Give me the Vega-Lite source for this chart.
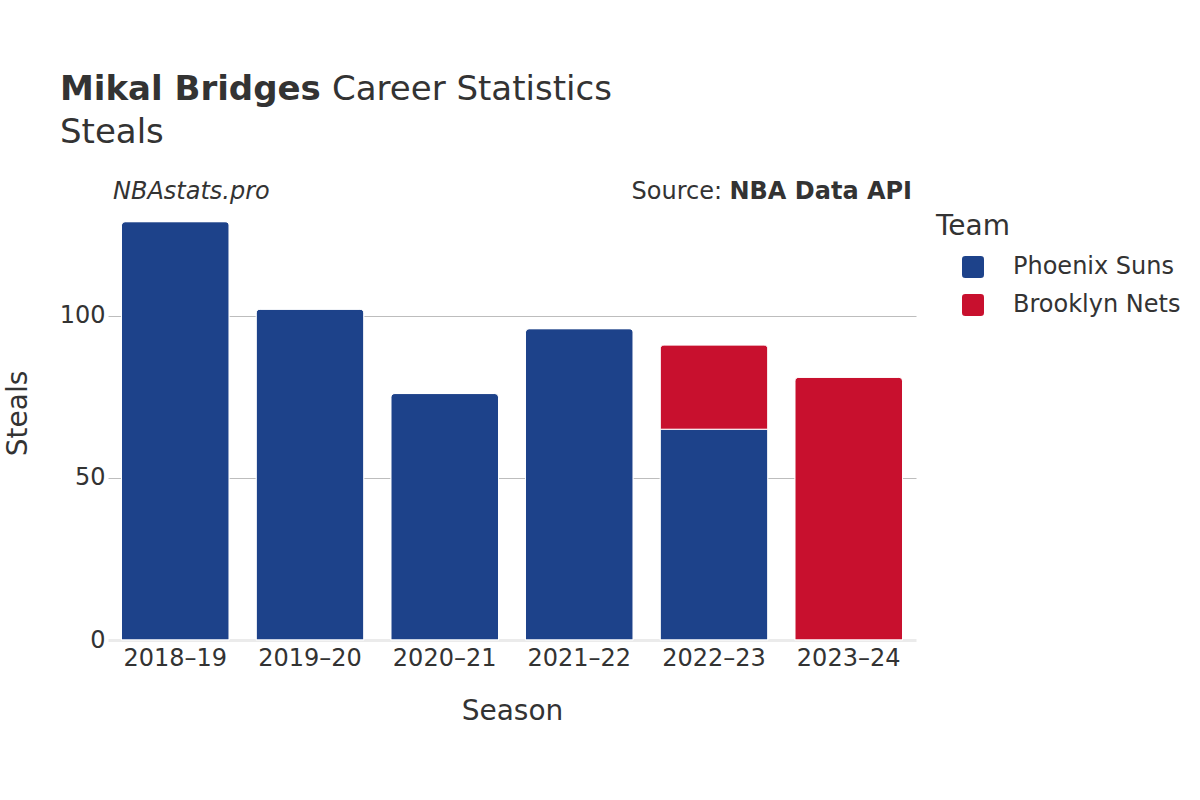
{
  "$schema": "https://vega.github.io/schema/vega-lite/v6.json",
  "width": 808,
  "height": 454,
  "autosize": {"type": "none"},
  "padding": {"left": 108, "top": 186, "right": 284, "bottom": 160},
  "background": "white",
  "config": {"font": "DejaVu Sans", "view": {"stroke": null}},
  "title": {
    "text": "Mikal Bridges",
    "subtitle": ["\u200b\u2003\u2003\u2003\u2003\u2003\u2003\u2003\u2003Career Statistics", "Steals"],
    "anchor": "start",
    "frame": "group",
    "dx": -48,
    "fontSize": 34,
    "fontWeight": "bold",
    "color": "#333333",
    "subtitleFontSize": 34,
    "subtitleFontWeight": "normal",
    "subtitleColor": "#333333",
    "subtitleLineHeight": 43,
    "subtitlePadding": -34,
    "offset": 30
  },
  "data": {
    "values": [
      {"season": "2018–19", "team": "Phoenix Suns", "steals": 129},
      {"season": "2019–20", "team": "Phoenix Suns", "steals": 102},
      {"season": "2020–21", "team": "Phoenix Suns", "steals": 76},
      {"season": "2021–22", "team": "Phoenix Suns", "steals": 96},
      {"season": "2022–23", "team": "Phoenix Suns", "steals": 65},
      {"season": "2022–23", "team": "Brooklyn Nets", "steals": 26},
      {"season": "2023–24", "team": "Brooklyn Nets", "steals": 81}
    ]
  },
  "layer": [
    {
      "mark": {"type": "bar", "cornerRadiusTopLeft": 4, "cornerRadiusTopRight": 4, "stroke": "white", "strokeWidth": 1},
      "encoding": {
        "x": {
          "field": "season", "type": "nominal", "title": "Season",
          "scale": {"paddingInner": 0.2, "paddingOuter": 0.1},
          "axis": {"labelAngle": 0, "labelFontSize": 24, "labelColor": "#333333", "labelPadding": 6, "ticks": false, "domain": true, "domainColor": "#ebebeb", "domainWidth": 3, "titleFontSize": 28, "titleFontWeight": "normal", "titleColor": "#333333", "titlePadding": 27}
        },
        "y": {
          "field": "steals", "type": "quantitative", "title": "Steals", "stack": "zero",
          "scale": {"domain": [0, 140], "nice": false},
          "axis": {"values": [0, 50, 100], "grid": true, "gridColor": {"condition": {"test": "datum.value === 0", "value": "transparent"}, "value": "#bdbdbd"}, "domain": false, "ticks": false, "labelFontSize": 24, "labelColor": "#333333", "labelPadding": 3, "titleFontSize": 28, "titleFontWeight": "normal", "titleColor": "#333333", "titlePadding": 27}
        },
        "color": {
          "field": "team", "type": "nominal", "title": "Team",
          "scale": {"domain": ["Phoenix Suns", "Brooklyn Nets"], "range": ["#1d428a", "#c8102e"]},
          "legend": {
            "orient": "right", "offset": -7, "padding": 27,
            "titleFontSize": 28, "titleFontWeight": "normal", "titleColor": "#333333", "titlePadding": 14,
            "labelFontSize": 24, "labelColor": "#333333", "labelOffset": 28, "labelLimit": 300,
            "symbolType": "M-0.7,-1H0.7Q1,-1 1,-0.7V0.7Q1,1 0.7,1H-0.7Q-1,1 -1,0.7V-0.7Q-1,-1 -0.7,-1Z",
            "symbolSize": 484, "symbolOffset": 25, "symbolStrokeWidth": 0, "rowPadding": 14
          }
        },
        "order": {"field": "team", "sort": "descending"}
      }
    },
    {
      "data": {"values": [{"t": "NBAstats.pro"}]},
      "mark": {"type": "text", "align": "left", "baseline": "middle", "fontStyle": "italic", "fontSize": 24, "color": "#333333", "dx": -8.5},
      "encoding": {"x": {"datum": "2018–19", "bandPosition": 0}, "y": {"datum": 138.3}, "text": {"field": "t"}}
    },
    {
      "data": {"values": [{"t": "NBA Data API"}]},
      "mark": {"type": "text", "align": "right", "baseline": "middle", "fontWeight": "bold", "fontSize": 24, "color": "#333333", "dx": 9.5},
      "encoding": {"x": {"datum": "2023–24", "bandPosition": 1}, "y": {"datum": 138.3}, "text": {"field": "t"}}
    },
    {
      "data": {"values": [{"t": "Source:"}]},
      "mark": {"type": "text", "align": "right", "baseline": "middle", "fontSize": 24, "color": "#333333", "dx": -180.5},
      "encoding": {"x": {"datum": "2023–24", "bandPosition": 1}, "y": {"datum": 138.3}, "text": {"field": "t"}}
    }
  ]
}
